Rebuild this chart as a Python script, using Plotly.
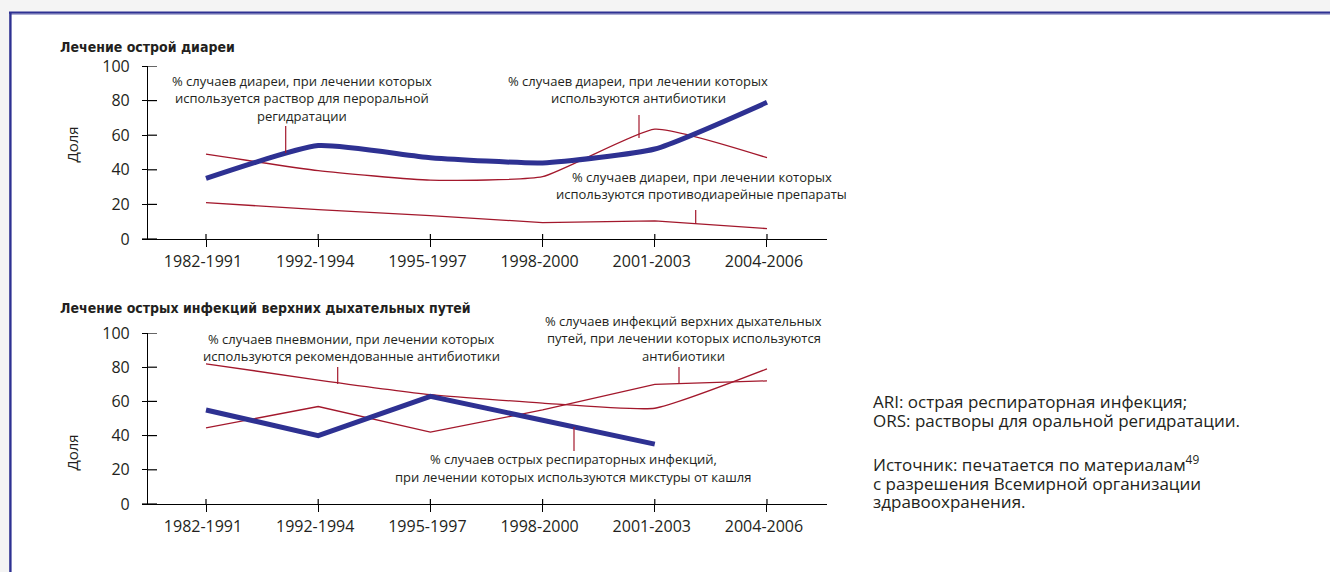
import plotly.graph_objects as go

W, H = 1330, 572

# ---------------- data ----------------
periods = ["1982-1991", "1992-1994", "1995-1997", "1998-2000", "2001-2003", "2004-2006"]
y_ticks = [0, 20, 40, 60, 80, 100]

# Лечение острой диареи (%)
ors_pct = [35, 54, 47, 44, 52, 79]
diar_antibiotic_pct = [49, 39.5, 34, 36, 63.5, 47]
antidiarrheal_pct = [21, 17, 13.5, 9.5, 10.5, 6]

# Лечение острых инфекций верхних дыхательных путей (%)
cough_mixture_pct = [55, 40, 63, 49, 35, None]
pneumonia_antibiotic_pct = [82, 72.5, 64, 59, 56, 79]
uri_antibiotic_pct = [44.5, 57, 42, 55, 70, 72]

# ---------------- style ----------------
BLUE = "#2e3192"
RED = "#a3182c"
TXT = "#231f20"
FONT = "Open Sans, Noto Sans, DejaVu Sans, sans-serif"
BOLD_FONT = "Liberation Sans Narrow, DejaVu Sans Condensed, Arial Narrow, sans-serif"


def px(x):
    return x / W


def py(y):
    return 1 - y / H


fig = go.Figure()


def add_series(vals, xa, ya, color, width, shape="linear", smoothing=None):
    line = dict(color=color, width=width, shape=shape)
    if smoothing is not None:
        line["smoothing"] = smoothing
    fig.add_trace(go.Scatter(x=periods, y=vals, mode="lines", line=line,
                             xaxis=xa, yaxis=ya, showlegend=False,
                             hoverinfo="x+y", connectgaps=False))


# top chart
add_series(diar_antibiotic_pct, "x", "y", RED, 1.3, "spline", 0.45)
add_series(antidiarrheal_pct, "x", "y", RED, 1.3)
add_series(ors_pct, "x", "y", BLUE, 5, "spline", 0.5)
# bottom chart
add_series(pneumonia_antibiotic_pct, "x2", "y2", RED, 1.3, "spline", 0.45)
add_series(uri_antibiotic_pct, "x2", "y2", RED, 1.3)
add_series(cough_mixture_pct, "x2", "y2", BLUE, 5)

XRANGE = [-0.517, 5.535]
XDOM = [px(148), px(827)]

axis_common = dict(showline=True, linecolor="black", linewidth=1.2,
                   ticks="outside", tickcolor="black", tickwidth=1.2,
                   showgrid=False, zeroline=False, automargin=False,
                   tickfont=dict(family=FONT, size=16, color=TXT))

xcommon = dict(domain=XDOM, range=XRANGE, type="category", tickvals=periods, ticktext=periods,
               ticklen=7, ticklabelstandoff=1, ticklabelshift=-3, **axis_common)
ycommon = dict(range=[0, 100], tickvals=y_ticks, ticklen=5, ticklabelstandoff=9, **axis_common)

fig.update_layout(
    xaxis=dict(anchor="y", **xcommon),
    yaxis=dict(domain=[py(239), py(66)], anchor="x", **ycommon),
    xaxis2=dict(anchor="y2", **xcommon),
    yaxis2=dict(domain=[py(504), py(333)], anchor="x2", **ycommon),
)

shapes = []
# page frame
shapes.append(dict(type="rect", xref="paper", yref="paper", x0=px(10), x1=1, y0=0, y1=py(12),
                   fillcolor="white", line=dict(width=0), layer="below"))
shapes.append(dict(type="line", xref="paper", yref="paper", x0=px(9), x1=1, y0=py(12.6), y1=py(12.6),
                   line=dict(color=BLUE, width=2.2)))
shapes.append(dict(type="line", xref="paper", yref="paper", x0=px(11), x1=1, y0=py(14.3), y1=py(14.3),
                   line=dict(color="#9a9bcb", width=1)))
shapes.append(dict(type="line", xref="paper", yref="paper", x0=px(10.4), x1=px(10.4), y0=0, y1=py(12),
                   line=dict(color=BLUE, width=2.4)))

# inner halves of the crossing ticks + x-axis stub left of the y-axis
for xa, ya, ybase in (("x", "y", 239), ("x2", "y2", 504)):
    for p in periods:
        shapes.append(dict(type="line", xref=xa, yref="paper", x0=p, x1=p,
                           y0=py(ybase), y1=py(ybase - 5), line=dict(color="black", width=1.2)))
    for v in y_ticks:
        shapes.append(dict(type="line", xref="paper", yref=ya, x0=px(148), x1=px(157),
                           y0=v, y1=v, line=dict(color="black", width=1.2)))
    shapes.append(dict(type="line", xref="paper", yref="paper", x0=px(142), x1=px(148),
                       y0=py(ybase), y1=py(ybase), line=dict(color="black", width=1.2)))

# leader lines for the labels
leaders = [(285.7, 126, 153), (639, 115, 138), (695.7, 210, 224),
           (337.7, 367, 384), (679, 367, 384), (574, 427, 451)]
for lx, ly0, ly1 in leaders:
    shapes.append(dict(type="line", xref="paper", yref="paper", x0=px(lx), x1=px(lx),
                       y0=py(ly0), y1=py(ly1), line=dict(color=RED, width=1.2)))

fig.update_layout(shapes=shapes)

annotations = []


def add_lines(lines, x, y0, dy, size, xanchor="center", family=FONT, bold=False):
    for i, t in enumerate(lines):
        txt = f"<b>{t}</b>" if bold else t
        ann = dict(xref="paper", yref="paper", x=px(x), y=py(y0 + i * dy),
                   text=txt, showarrow=False, xanchor=xanchor, yanchor="middle",
                   borderpad=0, font=dict(family=family, size=size, color=TXT))
        if dy:
            ann["height"] = int(dy) - 1
        annotations.append(ann)


def add_block(lines, x, yc, line_gap, size):
    # one text block; line spacing set by the base font size (1.3 em), glyphs drawn at `size`
    base = line_gap / 1.3
    txt = "<br>".join(f"<span style='font-size:{size}px'>{t}</span>" for t in lines)
    annotations.append(dict(xref="paper", yref="paper", x=px(x), y=py(yc), text=txt,
                            showarrow=False, xanchor="left", yanchor="middle", align="left",
                            borderpad=0, font=dict(family=FONT, size=base, color=TXT)))


# section titles
add_lines(["Лечение острой диареи"], 59, 47, 0, 14, "left", BOLD_FONT, True)
add_lines(["Лечение острых инфекций верхних дыхательных путей"], 59, 308, 0, 14, "left", BOLD_FONT, True)

# y-axis titles
for yc in (145, 453):
    annotations.append(dict(xref="paper", yref="paper", x=px(71.5), y=py(yc), text="Доля",
                            showarrow=False, textangle=-90, xanchor="center", yanchor="middle",
                            font=dict(family=FONT, size=15, color=TXT)))

# series labels
LS = 13
add_lines(["% случаев диареи, при лечении которых",
           "используется раствор для пероральной",
           "регидратации"], 302, 80.7, 17.7, LS)
add_lines(["% случаев диареи, при лечении которых",
           "используются антибиотики"], 638, 80.7, 17.7, LS)
add_lines(["% случаев диареи, при лечении которых",
           "используются противодиарейные препараты"], 701.7, 176.7, 17.7, LS)
add_lines(["% случаев пневмонии, при лечении которых",
           "используются рекомендованные антибиотики"], 351, 339, 17.2, LS)
add_lines(["% случаев инфекций верхних дыхательных",
           "путей, при лечении которых используются",
           "антибиотики"], 684, 321, 17.3, LS)
add_lines(["% случаев острых респираторных инфекций,",
           "при лечении которых используются микстуры от кашля"], 573, 459.3, 17.4, LS)

# notes on the right
add_block(["ARI: острая респираторная инфекция;",
           "ORS: растворы для оральной регидратации."], 872, 411.2, 18.5, 17)
add_block(["Источник: печатается по материалам<sup>49</sup>",
           "с разрешения Всемирной организации",
           "здравоохранения."], 872, 481.5, 18.5, 17)

fig.update_layout(annotations=annotations,
                  width=W, height=H, autosize=False,
                  margin=dict(l=0, r=0, t=0, b=0, pad=0),
                  paper_bgcolor="#f4f4f4", plot_bgcolor="rgba(0,0,0,0)",
                  showlegend=False)

fig.write_html("out.html", config={"displayModeBar": False},
               post_script="document.body.style.margin='0';document.body.style.overflow='hidden';")
